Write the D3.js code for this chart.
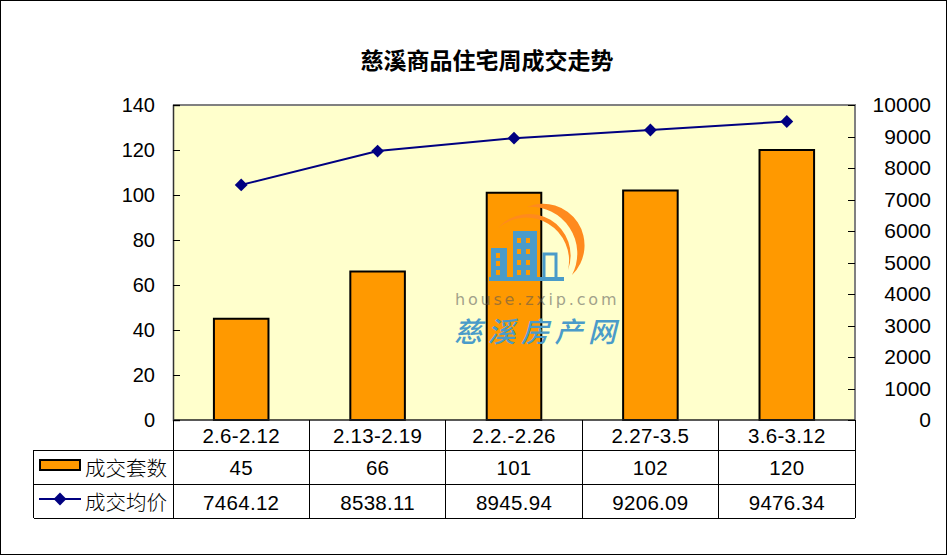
<!DOCTYPE html>
<html><head><meta charset="utf-8">
<script src="https://cdn.jsdelivr.net/npm/d3@7"></script>
<style>html,body{margin:0;padding:0;background:#fff}svg{display:block}text{font-family:"Liberation Sans",Arial,sans-serif;fill:#000}</style>
</head><body><svg id="c" width="948" height="556"></svg>
<script>
const categories=["2.6-2.12","2.13-2.19","2.2.-2.26","2.27-3.5","3.6-3.12"];
const units=[45,66,101,102,120];
const prices=[7464.12,8538.11,8945.94,9206.09,9476.34];
const priceLabels=["7464.12","8538.11","8945.94","9206.09","9476.34"];
const unitTicks=[0,20,40,60,80,100,120,140];
const priceTicks=[0,1000,2000,3000,4000,5000,6000,7000,8000,9000,10000];
const title="慈溪商品住宅周成交走势";
const seriesNames=["成交套数","成交均价"];

const W=948,H=556,L=173,R=855,T=105,B=420,rows=[450,484,518],tableL=33.5;
const cjk='"Noto Sans CJK SC",sans-serif';
const svg=d3.select("#c");
svg.append("rect").attr("x",0.5).attr("y",0.5).attr("width",946).attr("height",554).attr("fill","#fff").attr("stroke","#000");
svg.append("text").attr("x",487).attr("y",69).attr("text-anchor","middle").attr("font-size",23).attr("font-weight",700).style("font-family",cjk).text(title);

const x=d3.scaleBand().domain(categories).range([L,R]);
const yL=d3.scaleLinear().domain([0,140]).range([B,T]);
const yR=d3.scaleLinear().domain([0,10000]).range([B,T]);

svg.append("rect").attr("x",L).attr("y",T).attr("width",R-L).attr("height",B-T).attr("fill","#ffffcc");

const barW=x.bandwidth()*0.4;
svg.append("g").selectAll("rect").data(units).join("rect")
 .attr("x",(d,i)=>x(categories[i])+x.bandwidth()/2-barW/2)
 .attr("y",d=>yL(d)).attr("width",barW).attr("height",d=>B-yL(d))
 .attr("fill","#ff9900").attr("stroke","#000").attr("stroke-width",2);

// watermark
const wm=svg.append("g").attr("transform","translate(440,190)");
wm.append("path").attr("d","M87,17 A41.5,41.5 0 0 1 132,85 A46.6,46.6 0 0 0 87,17 Z").attr("fill","#ff8a1e");
wm.append("path").attr("d","M58,38 A41.5,41.5 0 0 1 128,80 A43,43 0 0 0 58,38 Z").attr("fill","#ff8a1e");
const blue="#4a9bc9";
wm.append("rect").attr("x",51).attr("y",58).attr("width",16).attr("height",31).attr("fill",blue);
wm.append("rect").attr("x",73).attr("y",41).attr("width",24).attr("height",48).attr("fill",blue);
wm.append("rect").attr("x",104).attr("y",64).attr("width",12).attr("height",25).attr("fill","none").attr("stroke",blue).attr("stroke-width",3);
wm.append("rect").attr("x",49).attr("y",87).attr("width",75).attr("height",4).attr("fill",blue);
for(const [a,b] of [[56,63],[56,71],[56,80],[77,48],[86,48],[77,59],[86,59],[77,70],[86,70],[77,80],[86,80]])
 wm.append("rect").attr("x",a).attr("y",b).attr("width",4).attr("height",5).attr("fill","#ff9900");
wm.append("text").attr("x",15).attr("y",115).attr("font-size",16).attr("letter-spacing",2.8).attr("opacity",.55).style("font-family","'DejaVu Sans',sans-serif").style("fill","#555").text("house.zxip.com");
wm.append("text").attr("x",14).attr("y",152).attr("font-size",28).attr("font-style","italic").attr("font-weight",500).attr("letter-spacing",5.5).style("font-family",cjk).style("fill","#4a9bc9").text("慈溪房产网");

// frame & ticks
svg.append("path").attr("d",`M${L},${T}H${R}V${B}`).attr("fill","none").attr("stroke","#808080").attr("stroke-width",2);
svg.append("path").attr("d",`M${L},${B}H${R}`).attr("stroke","#222").attr("stroke-width",1.5);
const axisL=d3.axisRight(yL).tickValues(unitTicks).tickSize(7).tickFormat("");
svg.append("g").attr("transform",`translate(${L},0)`).call(axisL)
 .call(g=>g.selectAll("line").attr("stroke","#000").attr("shape-rendering","crispEdges"))
 .call(g=>g.select(".domain").attr("stroke","#333").attr("stroke-width",1.5));
const axisR=d3.axisLeft(yR).tickValues(priceTicks).tickSize(7).tickFormat("");
svg.append("g").attr("transform",`translate(${R},0)`).call(axisR)
 .call(g=>g.selectAll("line").attr("stroke","#000").attr("shape-rendering","crispEdges"))
 .call(g=>g.select(".domain").remove());

svg.append("g").selectAll("text").data(unitTicks).join("text").attr("x",155).attr("y",d=>yL(d)+7).attr("text-anchor","end").attr("font-size",20).text(d=>d);
svg.append("g").selectAll("text").data(priceTicks).join("text").attr("x",931).attr("y",d=>yR(d)+7).attr("text-anchor","end").attr("font-size",21).text(d=>d);

// line
const cx=i=>x(categories[i])+x.bandwidth()/2;
const line=d3.line().x((d,i)=>cx(i)).y(d=>yR(d));
svg.append("path").datum(prices).attr("d",line).attr("fill","none").attr("stroke","#000080").attr("stroke-width",2);
const diamond=d3.symbol().type(d3.symbolDiamond2).size(105);
svg.append("g").selectAll("path").data(prices).join("path").attr("d",diamond)
 .attr("transform",(d,i)=>`translate(${cx(i)},${yR(d)})`).attr("fill","#000080");

// table
const t=svg.append("g").attr("stroke","#000").attr("fill","none").attr("shape-rendering","crispEdges");
t.append("path").attr("d",`M${L},${B}V${rows[2]}`);
x.domain().forEach(c=>t.append("path").attr("d",`M${Math.floor(x(c)+x.bandwidth())},${B}V${rows[2]}`));
t.append("path").attr("d",`M${tableL},${rows[0]}H${R}M${tableL},${rows[1]}H${R}M${tableL},${rows[2]}H${R}M${tableL},${rows[0]}V${rows[2]}`);

const tb=(arr,y)=>svg.append("g").selectAll("text").data(arr).join("text")
 .attr("x",(d,i)=>cx(i)).attr("y",y).attr("text-anchor","middle").attr("font-size",20.5).attr("letter-spacing",.3).text(d=>d);
tb(categories,443);tb(units,475);tb(priceLabels,510);

svg.append("rect").attr("x",40).attr("y",460).attr("width",40).attr("height",10).attr("fill","#ff9900").attr("stroke","#000").attr("stroke-width",2);
svg.append("path").attr("d","M39,499H81").attr("stroke","#000080").attr("stroke-width",2);
svg.append("path").attr("d",diamond).attr("transform","translate(60,499)").attr("fill","#000080");
svg.append("g").selectAll("text").data(seriesNames).join("text").attr("x",85).attr("y",(d,i)=>i?510:476)
 .attr("font-size",20.5).attr("font-weight",300).style("font-family",cjk).text(d=>d);
</script></body></html>
